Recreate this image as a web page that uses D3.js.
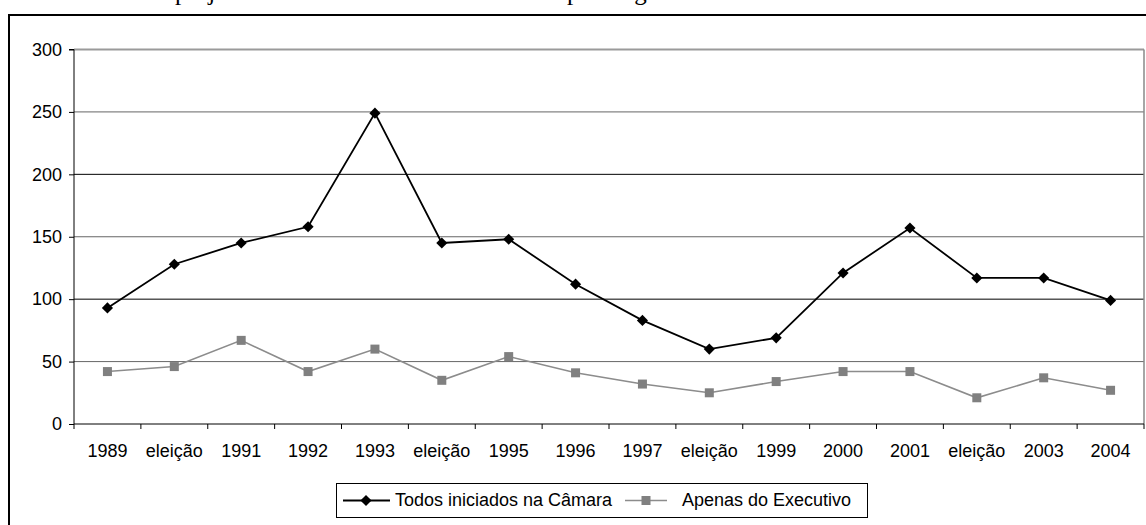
<!DOCTYPE html>
<html>
<head>
<meta charset="utf-8">
<script src="https://cdn.jsdelivr.net/npm/d3@7"></script>
<style>
  html, body { margin: 0; padding: 0; background: #fff; }
  svg { display: block; }
  text { font-family: Arial, "Liberation Sans", sans-serif; }
</style>
</head>
<body>
<svg id="chart" width="1146" height="525"></svg>
<script>
// ---- data ----
const categories = ["1989","eleição","1991","1992","1993","eleição","1995","1996","1997","eleição","1999","2000","2001","eleição","2003","2004"];
const todosCamara = [93,128,145,158,249,145,148,112,83,60,69,121,157,117,117,99];
const apenasExecutivo = [42,46,67,42,60,35,54,41,32,25,34,42,42,21,37,27];
const yTicks = [0,50,100,150,200,250,300];
const seriesNames = ["Todos iniciados na Câmara","Apenas do Executivo"];

// ---- layout ----
const W = 1146, H = 525;
const plot = {left: 74, right: 1144, top: 49.5, bottom: 424};
const svg = d3.select("#chart");
const idx = d3.range(categories.length);

const x = d3.scaleBand().domain(idx).range([plot.left, plot.right]).padding(0);
const y = d3.scaleLinear().domain([0, 300]).range([plot.bottom, plot.top]);
const cx = i => x(i) + x.bandwidth() / 2;

// cropped caption above the frame (only descenders visible, as in the reference)
svg.append("text").attr("x", 175).attr("y", 0)
  .style("font-family", "'Liberation Serif', 'Times New Roman', serif").style("font-size", "25px")
  .text("projetos");
svg.append("text").attr("x", 567).attr("y", 0)
  .style("font-family", "'Liberation Serif', 'Times New Roman', serif").style("font-size", "25px")
  .text("por origem");

// outer chart frame (extends past the window)
svg.append("rect").attr("x", 9).attr("y", 15).attr("width", W + 20).attr("height", H + 20)
  .attr("fill", "none").attr("stroke", "#000").attr("stroke-width", 2);

// gridlines
svg.append("g").selectAll("line").data(yTicks.filter(d => d > 0)).join("line")
  .attr("x1", plot.left).attr("x2", plot.right)
  .attr("y1", d => y(d)).attr("y2", d => y(d))
  .attr("stroke", d => d === 300 ? "#9a9a9a" : (d % 100 === 0 ? "#000" : "#666"))
  .attr("stroke-width", d => d === 300 ? 2 : 1);

// plot area right border
svg.append("line").attr("x1", plot.right).attr("x2", plot.right)
  .attr("y1", plot.top).attr("y2", plot.bottom)
  .attr("stroke", "#888").attr("stroke-width", 1.5);

// y axis
const yAxis = svg.append("g").attr("transform", `translate(${plot.left},0)`)
  .call(d3.axisLeft(y).tickValues(yTicks).tickSize(5).tickPadding(7));
yAxis.select(".domain").attr("stroke", "#000").attr("d", `M-5,${plot.top}H0V${plot.bottom}`);
yAxis.selectAll("text").style("font-size", "18px").attr("fill", "#000");
yAxis.selectAll("line").attr("stroke", "#000");

// x axis (labels at band centres)
const xAxis = svg.append("g").attr("transform", `translate(0,${plot.bottom})`)
  .call(d3.axisBottom(x).tickSize(0).tickPadding(20).tickFormat(i => categories[i]));
xAxis.select(".domain").attr("stroke", "#000").attr("d", `M${plot.left},0H${plot.right}`);
xAxis.selectAll("text").style("font-size", "18px").attr("fill", "#000");

// tick marks at band boundaries
const bounds = idx.map(i => x(i)).concat([plot.right]);
svg.append("g").selectAll("line").data(bounds).join("line")
  .attr("x1", d => d).attr("x2", d => d)
  .attr("y1", plot.bottom).attr("y2", plot.bottom + 5)
  .attr("stroke", "#000");

// lines
const line = d3.line().x((d, i) => cx(i)).y(d => y(d));
svg.append("path").datum(apenasExecutivo).attr("d", line)
  .attr("fill", "none").attr("stroke", "#8c8c8c").attr("stroke-width", 1.6);
svg.append("path").datum(todosCamara).attr("d", line)
  .attr("fill", "none").attr("stroke", "#000").attr("stroke-width", 1.8);

// markers
const sq = 9;
svg.append("g").selectAll("rect").data(apenasExecutivo).join("rect")
  .attr("x", (d, i) => cx(i) - sq / 2).attr("y", d => y(d) - sq / 2)
  .attr("width", sq).attr("height", sq).attr("fill", "#808080");
const diamond = d3.symbol().type(d3.symbolSquare).size(62);
svg.append("g").selectAll("path").data(todosCamara).join("path")
  .attr("d", diamond)
  .attr("transform", (d, i) => `translate(${cx(i)},${y(d)}) rotate(45)`)
  .attr("fill", "#000");

// legend
const lg = svg.append("g");
lg.append("rect").attr("x", 336.5).attr("y", 483.5).attr("width", 531).attr("height", 34)
  .attr("fill", "#fff").attr("stroke", "#000").attr("stroke-width", 1);
const ly = 500.5;
lg.append("line").attr("x1", 343).attr("x2", 390).attr("y1", ly).attr("y2", ly)
  .attr("stroke", "#000").attr("stroke-width", 1.8);
lg.append("path").attr("d", diamond).attr("transform", `translate(366,${ly}) rotate(45)`).attr("fill", "#000");
lg.append("text").attr("x", 395).attr("y", ly).attr("dy", "0.33em")
  .style("font-size", "18px").text(seriesNames[0]);
lg.append("line").attr("x1", 625).attr("x2", 667).attr("y1", ly).attr("y2", ly)
  .attr("stroke", "#8c8c8c").attr("stroke-width", 1.6);
lg.append("rect").attr("x", 646 - sq / 2).attr("y", ly - sq / 2).attr("width", sq).attr("height", sq)
  .attr("fill", "#808080");
lg.append("text").attr("x", 682).attr("y", ly).attr("dy", "0.33em")
  .style("font-size", "18px").text(seriesNames[1]);
</script>
</body>
</html>
